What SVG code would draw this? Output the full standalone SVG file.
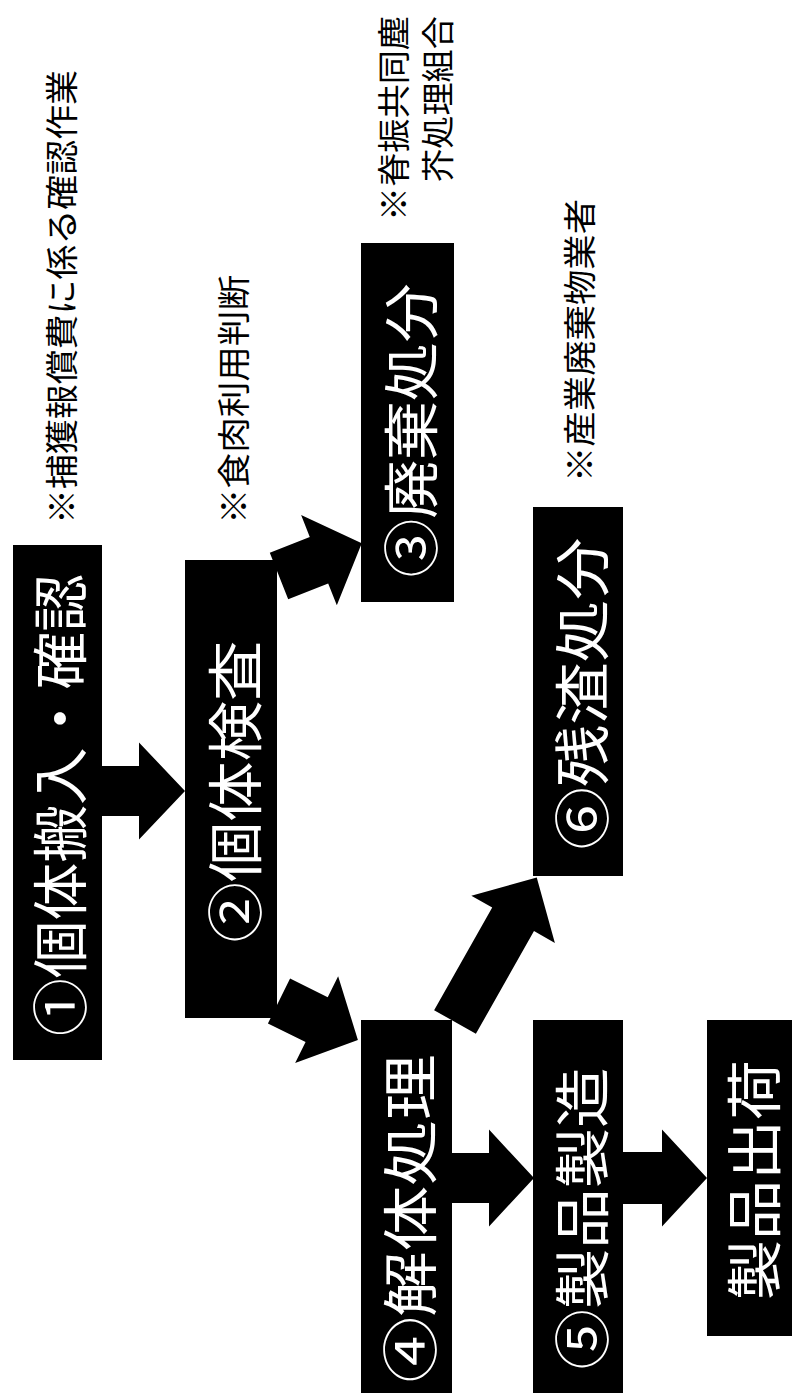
<svg xmlns="http://www.w3.org/2000/svg" width="792" height="1396" viewBox="0 0 792 1396">
<style>
.box{fill:#000}
.bt{fill:#fff;font-family:"Noto Sans CJK JP","Noto Sans CJK SC",sans-serif;font-size:56px;text-anchor:middle;dominant-baseline:central}
.nt{fill:#000;font-family:"Noto Sans CJK JP","Noto Sans CJK SC",sans-serif;font-size:33px;text-anchor:middle;dominant-baseline:central}
.ns{fill:#000;font-family:"Noto Sans CJK JP","Noto Sans CJK SC",sans-serif;font-size:33px;text-anchor:start;dominant-baseline:central}
.arr{fill:#000}
</style>
<rect width="792" height="1396" fill="#fff"/>
<g id="connectors">
<polygon class="arr" transform="translate(102,791)" points="0,-25 37,-25 37,-48.5 83,0 37,48.5 37,25 0,25"/>
<polygon class="arr" transform="translate(279,576) rotate(-21.6)" points="0,-25 43,-25 43,-48.5 89,0 43,48.5 43,25 0,25"/>
<polygon class="arr" transform="translate(279,1001) rotate(26.3)" points="0,-25 42,-25 42,-48.5 88,0 42,48.5 42,25 0,25"/>
<polygon class="arr" transform="translate(455,1022) rotate(-60.5)" points="0,-24 118,-24 118,-48 166,0 118,48 118,24 0,24"/>
<polygon class="arr" transform="translate(452,1178)" points="0,-25 37,-25 37,-48.5 82,0 37,48.5 37,25 0,25"/>
<polygon class="arr" transform="translate(623,1178)" points="0,-26 39,-26 39,-48.5 84,0 39,48.5 39,26 0,26"/>
</g>
<g id="node1">
<rect class="box" x="13" y="545" width="89" height="515"/>
<text class="bt" transform="translate(56,805) rotate(-90)" textLength="462" lengthAdjust="spacingAndGlyphs">①個体搬入・確認</text>
</g>
<g id="note1">
<text class="nt" transform="translate(59.5,297) rotate(-90)" textLength="454" lengthAdjust="spacingAndGlyphs">※捕獲報償費に係る確認作業</text>
</g>
<g id="node2">
<rect class="box" x="185" y="560" width="92" height="458"/>
<text class="bt" transform="translate(231,791.5) rotate(-90)" textLength="302" lengthAdjust="spacingAndGlyphs">②個体検査</text>
</g>
<g id="note2">
<text class="nt" transform="translate(232,399.5) rotate(-90)" textLength="249" lengthAdjust="spacingAndGlyphs">※食肉利用判断</text>
</g>
<g id="node3">
<rect class="box" x="361" y="243" width="93" height="359"/>
<text class="bt" transform="translate(407,430.5) rotate(-90)" textLength="294" lengthAdjust="spacingAndGlyphs">③廃棄処分</text>
</g>
<g id="note3">
<text class="ns" transform="translate(392,221) rotate(-90)" textLength="205" lengthAdjust="spacingAndGlyphs">※脊振共同塵</text>
<text class="ns" transform="translate(436,182) rotate(-90)" textLength="166" lengthAdjust="spacingAndGlyphs">芥処理組合</text>
</g>
<g id="node4">
<rect class="box" x="361" y="1020" width="91" height="373"/>
<text class="bt" transform="translate(406.5,1218.5) rotate(-90)" textLength="328" lengthAdjust="spacingAndGlyphs">④解体処理</text>
</g>
<g id="node6">
<rect class="box" x="533" y="507" width="90" height="369"/>
<text class="bt" transform="translate(578,693.5) rotate(-90)" textLength="312" lengthAdjust="spacingAndGlyphs">⑥残渣処分</text>
</g>
<g id="note6">
<text class="nt" transform="translate(578,340.5) rotate(-90)" textLength="283" lengthAdjust="spacingAndGlyphs">※産業廃棄物業者</text>
</g>
<g id="node5">
<rect class="box" x="533" y="1020" width="90" height="373"/>
<text class="bt" transform="translate(578,1218.5) rotate(-90)" textLength="302" lengthAdjust="spacingAndGlyphs">⑤製品製造</text>
</g>
<g id="node7">
<rect class="box" x="707" y="1020" width="85" height="316"/>
<text class="bt" transform="translate(750,1180) rotate(-90)" textLength="240" lengthAdjust="spacingAndGlyphs">製品出荷</text>
</g>
</svg>
